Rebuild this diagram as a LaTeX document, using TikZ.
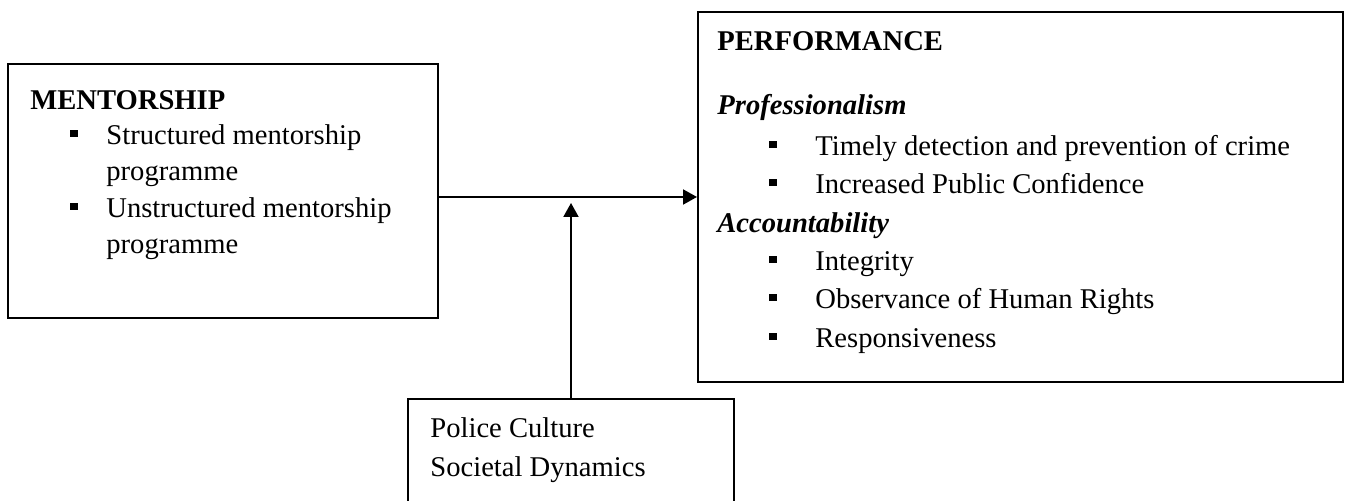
\documentclass[tikz,border=0pt]{standalone}
\usepackage{fontspec}
\setmainfont{Liberation Serif}
\usetikzlibrary{arrows.meta}
\newcommand\mybul[1]{\llap{\rule[4pt]{4pt}{3.6pt}\hspace{#1}}}
\tikzset{
  box/.style={draw, line width=1pt, rectangle, inner sep=0pt},
  txt/.style={anchor=base west, inner sep=0pt, font=\fontsize{14.3pt}{17pt}\selectfont},
  arr/.style={line width=1pt, -{Triangle[length=7pt,width=7.5pt]}}
}
\begin{document}
\begin{tikzpicture}[x=0.5pt,y=-0.5pt]
\clip (0,0) rectangle (1346,501);
\fill[white] (0,0) rectangle (1346,501);
% boxes
\node[box, minimum width=215pt, minimum height=127pt] (mentor) at (223,191) {};
\node[box, minimum width=322.5pt, minimum height=185pt] (perf) at (1020.5,197) {};
\node[box, minimum width=163pt, minimum height=70.5pt] (cult) at (571,469.5) {};
% mentorship text
\node[txt] (m0) at (30,110) {\textbf{MENTORSHIP}};
\node[txt] (m1) at (106,145) {\mybul{14pt}Structured mentorship};
\node[txt] (m2) at (106,181) {programme};
\node[txt] (m3) at (106,218) {\mybul{14pt}Unstructured mentorship};
\node[txt] (m4) at (106,254) {programme};
% performance text
\node[txt] (p0) at (717,51) {\textbf{PERFORMANCE}};
\node[txt] (p1) at (717,115) {\textbf{\textit{Professionalism}}};
\node[txt] (p2) at (815,156) {\mybul{19pt}Timely detection and prevention of crime};
\node[txt] (p3) at (815,194) {\mybul{19pt}Increased Public Confidence};
\node[txt] (p4) at (717,233) {\textbf{\textit{Accountability}}};
\node[txt] (p5) at (815,271) {\mybul{19pt}Integrity};
\node[txt] (p6) at (815,309) {\mybul{19pt}Observance of Human Rights};
\node[txt] (p7) at (815,348) {\mybul{19pt}Responsiveness};
% moderating text
\node[txt] (c1) at (430,438) {Police Culture};
\node[txt] (c2) at (430,477) {Societal Dynamics};
% connectors
\coordinate (join) at (572,203);
\draw[arr] (perf.west -| mentor.east) -- (perf.west);
\draw[arr] (cult.north) -- (cult.north |- join);
\end{tikzpicture}
\end{document}
